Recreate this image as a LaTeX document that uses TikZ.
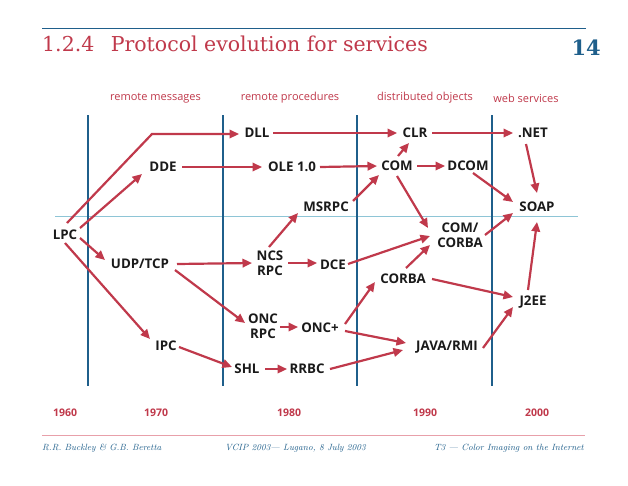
\documentclass[tikz,border=0pt]{standalone}
\usepackage{fontspec}
\setsansfont{Open Sans}
\newfontfamily\titlefont{DejaVu Serif}
\usetikzlibrary{arrows.meta,calc}
\definecolor{cred}{HTML}{C0394B}
\definecolor{cblue}{HTML}{1F5F8B}
\definecolor{clblue}{HTML}{8EC5D6}
\definecolor{cpink}{HTML}{E8A0AA}
\definecolor{ctext}{HTML}{1A1A1A}
\newcommand\arrconn[4]{\draw[arr] ($(#1)+(#2)$) -- ($(#3)+(#4)$);}
\begin{document}
\begin{tikzpicture}[x=1pt,y=-1pt,
  lbl/.style={inner sep=0pt,align=center,text=ctext,font=\sffamily\bfseries\fontsize{13.3}{14.8}\selectfont},
  cat/.style={inner sep=0pt,text=cred,font=\sffamily\fontsize{11}{12}\selectfont},
  yr/.style={inner sep=0pt,text=cred,font=\sffamily\bfseries\fontsize{10.5}{12}\selectfont},
  foot/.style={inner sep=0pt,text=cblue,font=\rmfamily\itshape\fontsize{9}{10}\selectfont},
  arr/.style={draw=cred,line width=2.2pt,-{Triangle[length=9.5pt,width=8.5pt]}},
  vline/.style={draw=cblue,line width=1.3pt}]
\useasboundingbox[fill=white] (0,0) rectangle (628,485);
% header
\draw[cblue,line width=1.3pt] (42,28.5) -- (586,28.5);
\node[anchor=base west,inner sep=0pt,text=cred,font=\titlefont\fontsize{20.5}{22}\selectfont] (title) at (42,51) {1.2.4\hspace{0.8em}Protocol evolution for services};
\node[anchor=base east,inner sep=0pt,text=cblue,font=\titlefont\bfseries\fontsize{21}{24}\selectfont] (pg) at (601,55) {14};
% categories
\node[cat] (c1) at (155.5,98) {remote messages};
\node[cat] (c2) at (290,98) {remote procedures};
\node[cat] (c3) at (425,98) {distributed objects};
\node[cat] (c4) at (526,98) {web services};
% grid lines
\draw[clblue,line width=1pt] (55,216) -- (578,216);
\draw[vline] (88,115) -- (88,386);
\draw[vline] (223,115) -- (223,386);
\draw[vline] (357,115) -- (357,386);
\draw[vline] (492,115) -- (492,386);
% years
\node[yr] (y1) at (65,413) {1960};
\node[yr] (y2) at (156,413) {1970};
\node[yr] (y3) at (289,413) {1980};
\node[yr] (y4) at (425,413) {1990};
\node[yr] (y5) at (537,413) {2000};
% footer
\draw[cpink,line width=1.2pt] (42,435.5) -- (585,435.5);
\node[foot,anchor=base west] (f1) at (42,450) {R.R. Buckley \& G.B. Beretta};
\node[foot,anchor=base west] (f2) at (225,450) {VCIP 2003--- Lugano, 8 July 2003};
\node[foot,anchor=base east] (f3) at (584,450) {T3 --- Color Imaging on the Internet};
% nodes
\node[lbl] (LPC) at (65,235) {LPC};
\node[lbl] (DDE) at (163,167) {DDE};
\node[lbl] (DLL) at (257,133) {DLL};
\node[lbl] (OLE) at (292,167) {OLE 1.0};
\node[lbl] (UDP) at (140,264) {UDP/TCP};
\node[lbl] (NCS) at (270,263) {NCS\\RPC};
\node[lbl] (MSRPC) at (326,207) {MSRPC};
\node[lbl] (DCE) at (333,265) {DCE};
\node[lbl] (IPC) at (166,346) {IPC};
\node[lbl] (ONCRPC) at (263,326) {ONC\\RPC};
\node[lbl] (ONCP) at (320,328) {ONC+};
\node[lbl] (SHL) at (247,369) {SHL};
\node[lbl] (RRBC) at (307,369) {RRBC};
\node[lbl] (CLR) at (415,133) {CLR};
\node[lbl] (COM) at (397,166) {COM};
\node[lbl] (DCOM) at (468,166) {DCOM};
\node[lbl] (COMCORBA) at (460,235) {COM/\\CORBA};
\node[lbl] (CORBA) at (403,279) {CORBA};
\node[lbl] (JAVA) at (447,347) {JAVA/RMI};
\node[lbl] (NET) at (533,133) {.NET};
\node[lbl] (SOAP) at (537,207) {SOAP};
\node[lbl] (J2EE) at (533,302) {J2EE};
% connectors
\draw[arr] ($(LPC)+(2,-12)$) -- ($(DLL)+(-105,1)$) -- ($(DLL)+(-18,1)$);
\arrconn{LPC}{15,-7}{DDE}{-21,7}
\arrconn{LPC}{15,3}{UDP}{-35,-4}
\arrconn{LPC}{0,8}{IPC}{-16,-7}
\arrconn{DDE}{19,0}{OLE}{-30,0}
\arrconn{DLL}{16,0}{CLR}{-18,0}
\arrconn{OLE}{28,0}{COM}{-20,0}
\arrconn{UDP}{37,0}{NCS}{-18,0}
\arrconn{UDP}{35,6}{ONCRPC}{-18,-3}
\arrconn{NCS}{-1,-16}{MSRPC}{-28,6}
\arrconn{NCS}{18,0}{DCE}{-16,-2}
\arrconn{MSRPC}{27,-6}{COM}{-18,9}
\arrconn{COM}{1,-10}{CLR}{-6,10}
\arrconn{COM}{20,0}{DCOM}{-23,0}
\arrconn{CLR}{17,0}{NET}{-20,0}
\arrconn{NET}{-7,11}{SOAP}{0,-14}
\arrconn{DCOM}{5,7}{SOAP}{-24,-5}
\arrconn{COM}{0,10}{COMCORBA}{-32,-7}
\arrconn{COMCORBA}{25,0}{SOAP}{-24,6}
\arrconn{DCE}{15,-1}{COMCORBA}{-30,1}
\arrconn{CORBA}{3,-11}{COMCORBA}{-30,10}
\arrconn{CORBA}{29,0}{J2EE}{-20,-5}
\arrconn{J2EE}{-5,-12}{SOAP}{0,15}
\arrconn{ONCRPC}{17,1}{ONCP}{-22,-1}
\arrconn{ONCP}{25,-4}{CORBA}{-28,3}
\arrconn{ONCP}{25,3}{JAVA}{-41,-4}
\arrconn{IPC}{13,1}{SHL}{-15,-2}
\arrconn{SHL}{18,0}{RRBC}{-20,0}
\arrconn{RRBC}{23,0}{JAVA}{-44,3}
\arrconn{JAVA}{36,1}{J2EE}{-20,5}
\end{tikzpicture}
\end{document}
